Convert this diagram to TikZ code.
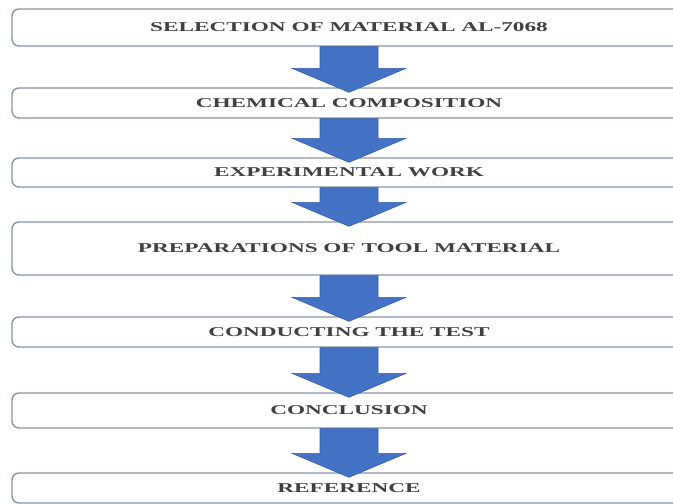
\documentclass[tikz,border=0pt]{standalone}
\usepackage{fontspec}
\setmainfont{Liberation Serif}
\usetikzlibrary{calc}
\definecolor{boxline}{RGB}{132,150,174}
\definecolor{arrowblue}{RGB}{68,114,196}
\definecolor{arrowedge}{RGB}{52,92,168}
\definecolor{txt}{RGB}{64,64,64}
\newcommand{\stretchtext}[1]{\scalebox{1.72}[1]{#1}}
\tikzset{
  stepbox/.style={draw=boxline, line width=1.4pt, rounded corners=7pt, fill=white,
    minimum width=674pt, inner sep=0pt, font=\fontsize{13.5}{15}\selectfont\bfseries, text=txt},
  flowarrow/.style={fill=arrowblue, draw=arrowedge, line width=0.6pt}
}
\newcommand{\flowarr}[2]{%
  \path let \p1=(#1.south), \p2=(#2.north) in
    [flowarrow] (\x1-29pt,\y1) -- (\x1+29pt,\y1) -- (\x1+29pt,\y2+19pt) -- (\x1+57pt,\y2+19pt)
    -- (\x1,\y2-5pt) -- (\x1-57pt,\y2+19pt) -- (\x1-29pt,\y2+19pt) -- cycle;}
\begin{document}
\begin{tikzpicture}[x=1pt,y=-1pt]
\useasboundingbox (0,0) rectangle (673,504);
\clip (0,0) rectangle (673,504);
\fill[white] (0,0) rectangle (673,504);
\node[stepbox, minimum height=37pt] (b1) at (349,27.5) {\stretchtext{SELECTION OF MATERIAL AL-7068}};
\node[stepbox, minimum height=30pt] (b2) at (349,103) {\stretchtext{CHEMICAL COMPOSITION}};
\node[stepbox, minimum height=29pt] (b3) at (349,172.5) {\stretchtext{EXPERIMENTAL WORK}};
\node[stepbox, minimum height=53pt] (b4) at (349,248.5) {\stretchtext{PREPARATIONS OF TOOL MATERIAL}};
\node[stepbox, minimum height=30pt] (b5) at (349,332) {\stretchtext{CONDUCTING THE TEST}};
\node[stepbox, minimum height=35pt] (b6) at (349,410.5) {\stretchtext{CONCLUSION}};
\node[stepbox, minimum height=30pt] (b7) at (349,488) {\stretchtext{REFERENCE}};
\flowarr{b1}{b2}
\flowarr{b2}{b3}
\flowarr{b3}{b4}
\flowarr{b4}{b5}
\flowarr{b5}{b6}
\flowarr{b6}{b7}
\end{tikzpicture}
\end{document}
